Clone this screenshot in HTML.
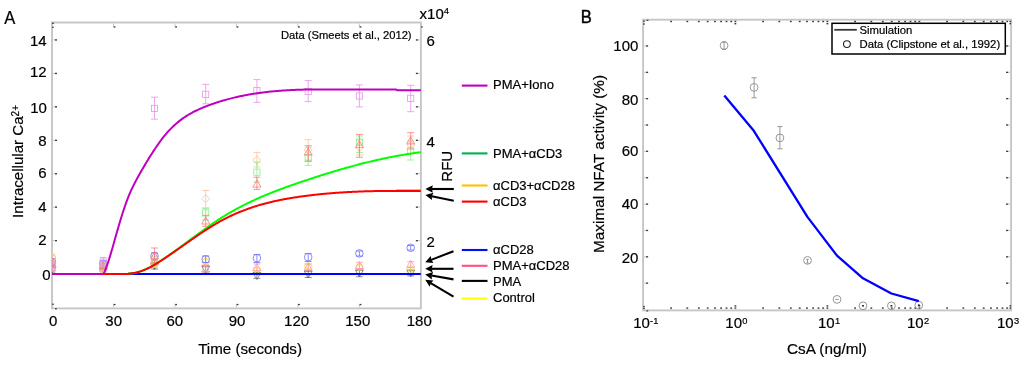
<!DOCTYPE html>
<html><head><meta charset="utf-8"><style>
html,body{margin:0;padding:0;background:#fff;width:1024px;height:366px;overflow:hidden}
svg{display:block;will-change:transform;filter:blur(0.35px)}
text{fill:#000;stroke:#000;stroke-width:0.2px}
</style></head><body>
<svg width="1024" height="366" viewBox="0 0 1024 366" font-family="Liberation Sans, sans-serif">
<rect width="1024" height="366" fill="#fff"/>
<defs><clipPath id="ca"><rect x="52.0" y="22.5" width="368.9" height="285.9"/></clipPath><clipPath id="cb"><rect x="643.1" y="19.7" width="368" height="290.7"/></clipPath></defs>
<rect x="52.0" y="22.5" width="368.9" height="285.9" fill="none" stroke="#c6c6c6" stroke-width="1.9"/>
<line x1="53.0" y1="274.0" x2="57.0" y2="274.0" stroke="#c8c8c8" stroke-width="1"/><rect x="55.0" y="273.4" width="2" height="1.3" fill="#3a3a3a"/>
<line x1="419.9" y1="274.0" x2="415.9" y2="274.0" stroke="#c8c8c8" stroke-width="1"/><rect x="415.9" y="273.4" width="2" height="1.3" fill="#3a3a3a"/>
<line x1="53.0" y1="240.6" x2="57.0" y2="240.6" stroke="#c8c8c8" stroke-width="1"/><rect x="55.0" y="240.0" width="2" height="1.3" fill="#3a3a3a"/>
<line x1="419.9" y1="240.6" x2="415.9" y2="240.6" stroke="#c8c8c8" stroke-width="1"/><rect x="415.9" y="240.0" width="2" height="1.3" fill="#3a3a3a"/>
<line x1="53.0" y1="207.1" x2="57.0" y2="207.1" stroke="#c8c8c8" stroke-width="1"/><rect x="55.0" y="206.5" width="2" height="1.3" fill="#3a3a3a"/>
<line x1="419.9" y1="207.1" x2="415.9" y2="207.1" stroke="#c8c8c8" stroke-width="1"/><rect x="415.9" y="206.5" width="2" height="1.3" fill="#3a3a3a"/>
<line x1="53.0" y1="173.7" x2="57.0" y2="173.7" stroke="#c8c8c8" stroke-width="1"/><rect x="55.0" y="173.1" width="2" height="1.3" fill="#3a3a3a"/>
<line x1="419.9" y1="173.7" x2="415.9" y2="173.7" stroke="#c8c8c8" stroke-width="1"/><rect x="415.9" y="173.1" width="2" height="1.3" fill="#3a3a3a"/>
<line x1="53.0" y1="140.3" x2="57.0" y2="140.3" stroke="#c8c8c8" stroke-width="1"/><rect x="55.0" y="139.7" width="2" height="1.3" fill="#3a3a3a"/>
<line x1="419.9" y1="140.3" x2="415.9" y2="140.3" stroke="#c8c8c8" stroke-width="1"/><rect x="415.9" y="139.7" width="2" height="1.3" fill="#3a3a3a"/>
<line x1="53.0" y1="106.8" x2="57.0" y2="106.8" stroke="#c8c8c8" stroke-width="1"/><rect x="55.0" y="106.2" width="2" height="1.3" fill="#3a3a3a"/>
<line x1="419.9" y1="106.8" x2="415.9" y2="106.8" stroke="#c8c8c8" stroke-width="1"/><rect x="415.9" y="106.2" width="2" height="1.3" fill="#3a3a3a"/>
<line x1="53.0" y1="73.4" x2="57.0" y2="73.4" stroke="#c8c8c8" stroke-width="1"/><rect x="55.0" y="72.8" width="2" height="1.3" fill="#3a3a3a"/>
<line x1="419.9" y1="73.4" x2="415.9" y2="73.4" stroke="#c8c8c8" stroke-width="1"/><rect x="415.9" y="72.8" width="2" height="1.3" fill="#3a3a3a"/>
<line x1="53.0" y1="39.9" x2="57.0" y2="39.9" stroke="#c8c8c8" stroke-width="1"/><rect x="55.0" y="39.3" width="2" height="1.3" fill="#3a3a3a"/>
<line x1="419.9" y1="39.9" x2="415.9" y2="39.9" stroke="#c8c8c8" stroke-width="1"/><rect x="415.9" y="39.3" width="2" height="1.3" fill="#3a3a3a"/>
<line x1="113.5" y1="307.4" x2="113.5" y2="303.9" stroke="#c8c8c8" stroke-width="1"/><rect x="113.7" y="303.9" width="1.8" height="1.3" fill="#3a3a3a"/>
<line x1="113.5" y1="23.5" x2="113.5" y2="27.3" stroke="#c8c8c8" stroke-width="1"/><rect x="113.7" y="26.3" width="1.8" height="1.3" fill="#3a3a3a"/>
<line x1="175.0" y1="307.4" x2="175.0" y2="303.9" stroke="#c8c8c8" stroke-width="1"/><rect x="175.2" y="303.9" width="1.8" height="1.3" fill="#3a3a3a"/>
<line x1="175.0" y1="23.5" x2="175.0" y2="27.3" stroke="#c8c8c8" stroke-width="1"/><rect x="175.2" y="26.3" width="1.8" height="1.3" fill="#3a3a3a"/>
<line x1="236.4" y1="307.4" x2="236.4" y2="303.9" stroke="#c8c8c8" stroke-width="1"/><rect x="236.6" y="303.9" width="1.8" height="1.3" fill="#3a3a3a"/>
<line x1="236.4" y1="23.5" x2="236.4" y2="27.3" stroke="#c8c8c8" stroke-width="1"/><rect x="236.6" y="26.3" width="1.8" height="1.3" fill="#3a3a3a"/>
<line x1="297.9" y1="307.4" x2="297.9" y2="303.9" stroke="#c8c8c8" stroke-width="1"/><rect x="298.1" y="303.9" width="1.8" height="1.3" fill="#3a3a3a"/>
<line x1="297.9" y1="23.5" x2="297.9" y2="27.3" stroke="#c8c8c8" stroke-width="1"/><rect x="298.1" y="26.3" width="1.8" height="1.3" fill="#3a3a3a"/>
<line x1="359.4" y1="307.4" x2="359.4" y2="303.9" stroke="#c8c8c8" stroke-width="1"/><rect x="359.6" y="303.9" width="1.8" height="1.3" fill="#3a3a3a"/>
<line x1="359.4" y1="23.5" x2="359.4" y2="27.3" stroke="#c8c8c8" stroke-width="1"/><rect x="359.6" y="26.3" width="1.8" height="1.3" fill="#3a3a3a"/>
<rect x="52.2" y="22.6" width="1.6" height="1.4" fill="#3a3a3a"/><rect x="52.2" y="26.6" width="1.6" height="1.3" fill="#3a3a3a"/>
<rect x="52.2" y="303.6" width="1.6" height="1.3" fill="#3a3a3a"/><rect x="55" y="308.2" width="1.8" height="1.2" fill="#3a3a3a"/>
<rect x="421.2" y="26.3" width="1.5" height="1.3" fill="#3a3a3a"/>
<text x="46.6" y="45.95" font-size="15" text-anchor="end">14</text>
<text x="46.6" y="77.40" font-size="15" text-anchor="end">12</text>
<text x="46.9" y="113.10" font-size="15" text-anchor="end">10</text>
<text x="46.6" y="145.95" font-size="15" text-anchor="end">8</text>
<text x="46.6" y="178.20" font-size="15" text-anchor="end">6</text>
<text x="46.6" y="212.40" font-size="15" text-anchor="end">4</text>
<text x="46.6" y="245.45" font-size="15" text-anchor="end">2</text>
<text x="50.5" y="280.35" font-size="15" text-anchor="end">0</text>
<text x="53.20" y="326.3" font-size="15" text-anchor="middle">0</text>
<text x="113.65" y="326.3" font-size="15" text-anchor="middle">30</text>
<text x="174.75" y="326.3" font-size="15" text-anchor="middle">60</text>
<text x="237.10" y="326.3" font-size="15" text-anchor="middle">90</text>
<text x="296.60" y="326.3" font-size="15" text-anchor="middle">120</text>
<text x="357.75" y="326.3" font-size="15" text-anchor="middle">150</text>
<text x="419.25" y="326.3" font-size="15" text-anchor="middle">180</text>
<text x="426.4" y="45.5" font-size="15">6</text>
<text x="426.4" y="147.4" font-size="15">4</text>
<text x="426.4" y="246.6" font-size="15">2</text>
<text x="419.6" y="18.8" font-size="15">x10<tspan font-size="9.5" dy="-5">4</tspan></text>
<text transform="translate(452.3,166.3) rotate(-90)" font-size="15" text-anchor="middle">RFU</text>
<text x="198.2" y="354.2" font-size="15.15">Time (seconds)</text>
<text transform="translate(23.4,217.9) rotate(-90)" font-size="15.1">Intracellular Ca<tspan font-size="10" dy="-4.6">2+</tspan></text>
<text transform="translate(4.2,23.6) scale(0.92,1)" font-size="18">A</text>
<text x="281" y="38.9" font-size="11.2">Data (Smeets et al., 2012)</text>
<g clip-path="url(#ca)">
<path d="M52.0,267.0 V273.0 M48.5,267.0 H55.5 M48.5,273.0 H55.5" stroke="#606060" stroke-width="0.7" fill="none"/>
<path d="M52.0,274.0 L56.0,267.0 L48.0,267.0 Z" fill="none" stroke="#606060" stroke-width="0.7"/>
<path d="M103.2,268.0 V274.0 M99.7,268.0 H106.7 M99.7,274.0 H106.7" stroke="#606060" stroke-width="0.7" fill="none"/>
<path d="M103.2,275.0 L107.2,268.0 L99.2,268.0 Z" fill="none" stroke="#606060" stroke-width="0.7"/>
<path d="M154.5,263.0 V269.0 M151.0,263.0 H158.0 M151.0,269.0 H158.0" stroke="#606060" stroke-width="0.7" fill="none"/>
<path d="M154.5,270.0 L158.5,263.0 L150.5,263.0 Z" fill="none" stroke="#606060" stroke-width="0.7"/>
<path d="M205.7,266.0 V272.0 M202.2,266.0 H209.2 M202.2,272.0 H209.2" stroke="#606060" stroke-width="0.7" fill="none"/>
<path d="M205.7,273.0 L209.7,266.0 L201.7,266.0 Z" fill="none" stroke="#606060" stroke-width="0.7"/>
<path d="M256.9,272.9 V278.4 M253.4,272.9 H260.4 M253.4,278.4 H260.4" stroke="#606060" stroke-width="0.7" fill="none"/>
<path d="M256.9,279.6 L260.9,272.6 L252.9,272.6 Z" fill="none" stroke="#606060" stroke-width="0.7"/>
<path d="M308.2,271.0 V277.5 M304.7,271.0 H311.7 M304.7,277.5 H311.7" stroke="#606060" stroke-width="0.7" fill="none"/>
<path d="M308.2,278.0 L312.2,271.0 L304.2,271.0 Z" fill="none" stroke="#606060" stroke-width="0.7"/>
<path d="M359.4,270.0 V276.7 M355.9,270.0 H362.9 M355.9,276.7 H362.9" stroke="#606060" stroke-width="0.7" fill="none"/>
<path d="M359.4,277.0 L363.4,270.0 L355.4,270.0 Z" fill="none" stroke="#606060" stroke-width="0.7"/>
<path d="M410.7,270.6 V275.9 M407.2,270.6 H414.2 M407.2,275.9 H414.2" stroke="#606060" stroke-width="0.7" fill="none"/>
<path d="M410.7,276.9 L414.7,269.9 L406.7,269.9 Z" fill="none" stroke="#606060" stroke-width="0.7"/>
<path d="M52.0,254.0 V260.0 M48.5,254.0 H55.5 M48.5,260.0 H55.5" stroke="#f0e040" stroke-width="0.8" fill="none"/>
<path d="M52.0,253.0 L56.0,257.0 L52.0,261.0 L48.0,257.0 Z" fill="none" stroke="#f0e040" stroke-width="0.8"/>
<path d="M103.2,267.0 V273.0 M99.7,267.0 H106.7 M99.7,273.0 H106.7" stroke="#f0e040" stroke-width="0.8" fill="none"/>
<path d="M103.2,266.0 L107.2,270.0 L103.2,274.0 L99.2,270.0 Z" fill="none" stroke="#f0e040" stroke-width="0.8"/>
<path d="M154.5,261.0 V267.0 M151.0,261.0 H158.0 M151.0,267.0 H158.0" stroke="#f0e040" stroke-width="0.8" fill="none"/>
<path d="M154.5,260.0 L158.5,264.0 L154.5,268.0 L150.5,264.0 Z" fill="none" stroke="#f0e040" stroke-width="0.8"/>
<path d="M205.7,259.0 V264.0 M202.2,259.0 H209.2 M202.2,264.0 H209.2" stroke="#f0e040" stroke-width="0.8" fill="none"/>
<path d="M205.7,257.4 L209.7,261.4 L205.7,265.4 L201.7,261.4 Z" fill="none" stroke="#f0e040" stroke-width="0.8"/>
<path d="M256.9,268.0 V271.8 M253.4,268.0 H260.4 M253.4,271.8 H260.4" stroke="#f0e040" stroke-width="0.8" fill="none"/>
<path d="M256.9,266.0 L260.9,270.0 L256.9,274.0 L252.9,270.0 Z" fill="none" stroke="#f0e040" stroke-width="0.8"/>
<path d="M308.2,264.0 V268.0 M304.7,264.0 H311.7 M304.7,268.0 H311.7" stroke="#f0e040" stroke-width="0.8" fill="none"/>
<path d="M308.2,262.0 L312.2,266.0 L308.2,270.0 L304.2,266.0 Z" fill="none" stroke="#f0e040" stroke-width="0.8"/>
<path d="M359.4,265.0 V269.0 M355.9,265.0 H362.9 M355.9,269.0 H362.9" stroke="#f0e040" stroke-width="0.8" fill="none"/>
<path d="M359.4,263.0 L363.4,267.0 L359.4,271.0 L355.4,267.0 Z" fill="none" stroke="#f0e040" stroke-width="0.8"/>
<path d="M410.7,267.5 V270.0 M407.2,267.5 H414.2 M407.2,270.0 H414.2" stroke="#f0e040" stroke-width="0.8" fill="none"/>
<path d="M410.7,264.8 L414.7,268.8 L410.7,272.8 L406.7,268.8 Z" fill="none" stroke="#f0e040" stroke-width="0.8"/>
<path d="M52.0,265.0 V271.0 M48.5,265.0 H55.5 M48.5,271.0 H55.5" stroke="#ff98b0" stroke-width="0.8" fill="none"/>
<path d="M52.0,264.0 L56.0,271.0 L48.0,271.0 Z" fill="none" stroke="#ff98b0" stroke-width="0.8"/>
<path d="M103.2,265.0 V271.0 M99.7,265.0 H106.7 M99.7,271.0 H106.7" stroke="#ff98b0" stroke-width="0.8" fill="none"/>
<path d="M103.2,264.0 L107.2,271.0 L99.2,271.0 Z" fill="none" stroke="#ff98b0" stroke-width="0.8"/>
<path d="M154.5,259.0 V265.0 M151.0,259.0 H158.0 M151.0,265.0 H158.0" stroke="#ff98b0" stroke-width="0.8" fill="none"/>
<path d="M154.5,258.0 L158.5,265.0 L150.5,265.0 Z" fill="none" stroke="#ff98b0" stroke-width="0.8"/>
<path d="M205.7,265.0 V272.0 M202.2,265.0 H209.2 M202.2,272.0 H209.2" stroke="#ff98b0" stroke-width="0.8" fill="none"/>
<path d="M205.7,264.5 L209.7,271.5 L201.7,271.5 Z" fill="none" stroke="#ff98b0" stroke-width="0.8"/>
<path d="M256.9,264.0 V271.0 M253.4,264.0 H260.4 M253.4,271.0 H260.4" stroke="#ff98b0" stroke-width="0.8" fill="none"/>
<path d="M256.9,263.4 L260.9,270.4 L252.9,270.4 Z" fill="none" stroke="#ff98b0" stroke-width="0.8"/>
<path d="M308.2,264.0 V270.0 M304.7,264.0 H311.7 M304.7,270.0 H311.7" stroke="#ff98b0" stroke-width="0.8" fill="none"/>
<path d="M308.2,263.0 L312.2,270.0 L304.2,270.0 Z" fill="none" stroke="#ff98b0" stroke-width="0.8"/>
<path d="M359.4,262.3 V269.0 M355.9,262.3 H362.9 M355.9,269.0 H362.9" stroke="#ff98b0" stroke-width="0.8" fill="none"/>
<path d="M359.4,261.5 L363.4,268.5 L355.4,268.5 Z" fill="none" stroke="#ff98b0" stroke-width="0.8"/>
<path d="M410.7,261.6 V267.6 M407.2,261.6 H414.2 M407.2,267.6 H414.2" stroke="#ff98b0" stroke-width="0.8" fill="none"/>
<path d="M410.7,260.3 L414.7,267.3 L406.7,267.3 Z" fill="none" stroke="#ff98b0" stroke-width="0.8"/>
<path d="M52.0,259.0 V265.0 M48.5,259.0 H55.5 M48.5,265.0 H55.5" stroke="#7070ff" stroke-width="0.8" fill="none"/>
<circle cx="52.0" cy="262.0" r="3.8" fill="none" stroke="#7070ff" stroke-width="0.8"/>
<path d="M103.2,261.0 V267.0 M99.7,261.0 H106.7 M99.7,267.0 H106.7" stroke="#7070ff" stroke-width="0.8" fill="none"/>
<circle cx="103.2" cy="264.0" r="3.8" fill="none" stroke="#7070ff" stroke-width="0.8"/>
<path d="M154.5,253.0 V260.0 M151.0,253.0 H158.0 M151.0,260.0 H158.0" stroke="#7070ff" stroke-width="0.8" fill="none"/>
<circle cx="154.5" cy="256.0" r="3.8" fill="none" stroke="#7070ff" stroke-width="0.8"/>
<path d="M205.7,256.0 V262.5 M202.2,256.0 H209.2 M202.2,262.5 H209.2" stroke="#7070ff" stroke-width="0.8" fill="none"/>
<circle cx="205.7" cy="259.2" r="3.8" fill="none" stroke="#7070ff" stroke-width="0.8"/>
<path d="M256.9,254.6 V262.5 M253.4,254.6 H260.4 M253.4,262.5 H260.4" stroke="#7070ff" stroke-width="0.8" fill="none"/>
<circle cx="256.9" cy="258.1" r="3.8" fill="none" stroke="#7070ff" stroke-width="0.8"/>
<path d="M308.2,253.5 V261.5 M304.7,253.5 H311.7 M304.7,261.5 H311.7" stroke="#7070ff" stroke-width="0.8" fill="none"/>
<circle cx="308.2" cy="257.2" r="3.8" fill="none" stroke="#7070ff" stroke-width="0.8"/>
<path d="M359.4,251.0 V256.0 M355.9,251.0 H362.9 M355.9,256.0 H362.9" stroke="#7070ff" stroke-width="0.8" fill="none"/>
<circle cx="359.4" cy="253.4" r="3.8" fill="none" stroke="#7070ff" stroke-width="0.8"/>
<path d="M410.7,245.5 V250.0 M407.2,245.5 H414.2 M407.2,250.0 H414.2" stroke="#7070ff" stroke-width="0.8" fill="none"/>
<circle cx="410.7" cy="247.8" r="3.8" fill="none" stroke="#7070ff" stroke-width="0.8"/>
<path d="M52.0,255.0 V262.0 M48.5,255.0 H55.5 M48.5,262.0 H55.5" stroke="#ffc098" stroke-width="0.8" fill="none"/>
<path d="M52.0,254.0 L56.0,258.0 L52.0,262.0 L48.0,258.0 Z" fill="none" stroke="#ffc098" stroke-width="0.8"/>
<path d="M103.2,266.0 V273.0 M99.7,266.0 H106.7 M99.7,273.0 H106.7" stroke="#ffc098" stroke-width="0.8" fill="none"/>
<path d="M103.2,266.0 L107.2,270.0 L103.2,274.0 L99.2,270.0 Z" fill="none" stroke="#ffc098" stroke-width="0.8"/>
<path d="M154.5,258.0 V266.0 M151.0,258.0 H158.0 M151.0,266.0 H158.0" stroke="#ffc098" stroke-width="0.8" fill="none"/>
<path d="M154.5,258.0 L158.5,262.0 L154.5,266.0 L150.5,262.0 Z" fill="none" stroke="#ffc098" stroke-width="0.8"/>
<path d="M205.7,190.5 V207.7 M202.2,190.5 H209.2 M202.2,207.7 H209.2" stroke="#ffc098" stroke-width="0.8" fill="none"/>
<path d="M205.7,194.7 L209.7,198.7 L205.7,202.7 L201.7,198.7 Z" fill="none" stroke="#ffc098" stroke-width="0.8"/>
<path d="M256.9,152.4 V167.0 M253.4,152.4 H260.4 M253.4,167.0 H260.4" stroke="#ffc098" stroke-width="0.8" fill="none"/>
<path d="M256.9,156.1 L260.9,160.1 L256.9,164.1 L252.9,160.1 Z" fill="none" stroke="#ffc098" stroke-width="0.8"/>
<path d="M308.2,139.6 V160.0 M304.7,139.6 H311.7 M304.7,160.0 H311.7" stroke="#ffc098" stroke-width="0.8" fill="none"/>
<path d="M308.2,146.0 L312.2,150.0 L308.2,154.0 L304.2,150.0 Z" fill="none" stroke="#ffc098" stroke-width="0.8"/>
<path d="M359.4,140.0 V155.0 M355.9,140.0 H362.9 M355.9,155.0 H362.9" stroke="#ffc098" stroke-width="0.8" fill="none"/>
<path d="M359.4,143.7 L363.4,147.7 L359.4,151.7 L355.4,147.7 Z" fill="none" stroke="#ffc098" stroke-width="0.8"/>
<path d="M410.7,136.0 V154.0 M407.2,136.0 H414.2 M407.2,154.0 H414.2" stroke="#ffc098" stroke-width="0.8" fill="none"/>
<path d="M410.7,141.0 L414.7,145.0 L410.7,149.0 L406.7,145.0 Z" fill="none" stroke="#ffc098" stroke-width="0.8"/>
<path d="M52.0,263.0 V269.0 M48.5,263.0 H55.5 M48.5,269.0 H55.5" stroke="#8cee8c" stroke-width="0.8" fill="none"/>
<rect x="48.9" y="262.9" width="6.2" height="6.2" fill="none" stroke="#8cee8c" stroke-width="0.8"/>
<path d="M103.2,263.0 V269.0 M99.7,263.0 H106.7 M99.7,269.0 H106.7" stroke="#8cee8c" stroke-width="0.8" fill="none"/>
<rect x="100.1" y="262.9" width="6.2" height="6.2" fill="none" stroke="#8cee8c" stroke-width="0.8"/>
<path d="M154.5,256.0 V264.0 M151.0,256.0 H158.0 M151.0,264.0 H158.0" stroke="#8cee8c" stroke-width="0.8" fill="none"/>
<rect x="151.4" y="256.9" width="6.2" height="6.2" fill="none" stroke="#8cee8c" stroke-width="0.8"/>
<path d="M205.7,208.6 V219.8 M202.2,208.6 H209.2 M202.2,219.8 H209.2" stroke="#8cee8c" stroke-width="0.8" fill="none"/>
<rect x="202.6" y="209.9" width="6.2" height="6.2" fill="none" stroke="#8cee8c" stroke-width="0.8"/>
<path d="M256.9,162.2 V182.0 M253.4,162.2 H260.4 M253.4,182.0 H260.4" stroke="#8cee8c" stroke-width="0.8" fill="none"/>
<rect x="253.8" y="169.1" width="6.2" height="6.2" fill="none" stroke="#8cee8c" stroke-width="0.8"/>
<path d="M308.2,147.2 V165.4 M304.7,147.2 H311.7 M304.7,165.4 H311.7" stroke="#8cee8c" stroke-width="0.8" fill="none"/>
<rect x="305.1" y="154.6" width="6.2" height="6.2" fill="none" stroke="#8cee8c" stroke-width="0.8"/>
<path d="M359.4,136.0 V152.6 M355.9,136.0 H362.9 M355.9,152.6 H362.9" stroke="#8cee8c" stroke-width="0.8" fill="none"/>
<rect x="356.3" y="139.0" width="6.2" height="6.2" fill="none" stroke="#8cee8c" stroke-width="0.8"/>
<path d="M410.7,141.0 V160.0 M407.2,141.0 H414.2 M407.2,160.0 H414.2" stroke="#8cee8c" stroke-width="0.8" fill="none"/>
<rect x="407.6" y="147.7" width="6.2" height="6.2" fill="none" stroke="#8cee8c" stroke-width="0.8"/>
<path d="M52.0,261.0 V267.0 M48.5,261.0 H55.5 M48.5,267.0 H55.5" stroke="#ff7878" stroke-width="0.8" fill="none"/>
<path d="M52.0,260.0 L56.0,267.0 L48.0,267.0 Z" fill="none" stroke="#ff7878" stroke-width="0.8"/>
<path d="M103.2,263.0 V269.0 M99.7,263.0 H106.7 M99.7,269.0 H106.7" stroke="#ff7878" stroke-width="0.8" fill="none"/>
<path d="M103.2,262.0 L107.2,269.0 L99.2,269.0 Z" fill="none" stroke="#ff7878" stroke-width="0.8"/>
<path d="M154.5,248.0 V263.0 M151.0,248.0 H158.0 M151.0,263.0 H158.0" stroke="#ff7878" stroke-width="0.8" fill="none"/>
<path d="M154.5,252.0 L158.5,259.0 L150.5,259.0 Z" fill="none" stroke="#ff7878" stroke-width="0.8"/>
<path d="M205.7,215.3 V226.3 M202.2,215.3 H209.2 M202.2,226.3 H209.2" stroke="#ff7878" stroke-width="0.8" fill="none"/>
<path d="M205.7,217.0 L209.7,224.0 L201.7,224.0 Z" fill="none" stroke="#ff7878" stroke-width="0.8"/>
<path d="M256.9,177.2 V189.4 M253.4,177.2 H260.4 M253.4,189.4 H260.4" stroke="#ff7878" stroke-width="0.8" fill="none"/>
<path d="M256.9,180.1 L260.9,187.1 L252.9,187.1 Z" fill="none" stroke="#ff7878" stroke-width="0.8"/>
<path d="M308.2,145.7 V161.4 M304.7,145.7 H311.7 M304.7,161.4 H311.7" stroke="#ff7878" stroke-width="0.8" fill="none"/>
<path d="M308.2,148.1 L312.2,155.1 L304.2,155.1 Z" fill="none" stroke="#ff7878" stroke-width="0.8"/>
<path d="M359.4,134.4 V157.3 M355.9,134.4 H362.9 M355.9,157.3 H362.9" stroke="#ff7878" stroke-width="0.8" fill="none"/>
<path d="M359.4,140.6 L363.4,147.6 L355.4,147.6 Z" fill="none" stroke="#ff7878" stroke-width="0.8"/>
<path d="M410.7,132.7 V149.0 M407.2,132.7 H414.2 M407.2,149.0 H414.2" stroke="#ff7878" stroke-width="0.8" fill="none"/>
<path d="M410.7,136.9 L414.7,143.9 L406.7,143.9 Z" fill="none" stroke="#ff7878" stroke-width="0.8"/>
<path d="M52.0,262.0 V268.0 M48.5,262.0 H55.5 M48.5,268.0 H55.5" stroke="#e890e8" stroke-width="0.8" fill="none"/>
<rect x="48.9" y="261.9" width="6.2" height="6.2" fill="none" stroke="#e890e8" stroke-width="0.8"/>
<path d="M103.2,257.4 V266.0 M99.7,257.4 H106.7 M99.7,266.0 H106.7" stroke="#e890e8" stroke-width="0.8" fill="none"/>
<rect x="100.1" y="258.9" width="6.2" height="6.2" fill="none" stroke="#e890e8" stroke-width="0.8"/>
<path d="M154.5,97.2 V119.2 M151.0,97.2 H158.0 M151.0,119.2 H158.0" stroke="#e890e8" stroke-width="0.8" fill="none"/>
<rect x="151.4" y="105.3" width="6.2" height="6.2" fill="none" stroke="#e890e8" stroke-width="0.8"/>
<path d="M205.7,84.4 V103.8 M202.2,84.4 H209.2 M202.2,103.8 H209.2" stroke="#e890e8" stroke-width="0.8" fill="none"/>
<rect x="202.6" y="91.2" width="6.2" height="6.2" fill="none" stroke="#e890e8" stroke-width="0.8"/>
<path d="M256.9,79.6 V102.3 M253.4,79.6 H260.4 M253.4,102.3 H260.4" stroke="#e890e8" stroke-width="0.8" fill="none"/>
<rect x="253.8" y="87.5" width="6.2" height="6.2" fill="none" stroke="#e890e8" stroke-width="0.8"/>
<path d="M308.2,80.6 V101.6 M304.7,80.6 H311.7 M304.7,101.6 H311.7" stroke="#e890e8" stroke-width="0.8" fill="none"/>
<rect x="305.1" y="88.3" width="6.2" height="6.2" fill="none" stroke="#e890e8" stroke-width="0.8"/>
<path d="M359.4,84.9 V106.9 M355.9,84.9 H362.9 M355.9,106.9 H362.9" stroke="#e890e8" stroke-width="0.8" fill="none"/>
<rect x="356.3" y="92.9" width="6.2" height="6.2" fill="none" stroke="#e890e8" stroke-width="0.8"/>
<path d="M410.7,85.3 V111.7 M407.2,85.3 H414.2 M407.2,111.7 H414.2" stroke="#e890e8" stroke-width="0.8" fill="none"/>
<rect x="407.6" y="95.2" width="6.2" height="6.2" fill="none" stroke="#e890e8" stroke-width="0.8"/>
</g>
<g clip-path="url(#ca)" fill="none" stroke-linejoin="round" stroke-linecap="butt">
<line x1="52.0" y1="274.0" x2="420.9" y2="274.0" stroke="#0000ff" stroke-width="2.0"/>
<path d="M52.0,274.0 L128.5,274.0 L128.50,273.61 L129.48,273.58 L130.46,273.53 L131.43,273.44 L132.41,273.32 L133.39,273.18 L134.37,273.01 L135.35,272.81 L136.32,272.59 L137.30,272.34 L138.28,272.07 L139.26,271.77 L140.24,271.45 L141.21,271.11 L142.19,270.74 L143.17,270.36 L144.15,269.96 L145.12,269.53 L146.10,269.09 L147.08,268.63 L148.06,268.15 L149.04,267.66 L150.01,267.15 L150.99,266.63 L151.97,266.09 L152.95,265.54 L153.93,264.97 L154.90,264.40 L155.88,263.81 L156.86,263.21 L157.84,262.61 L158.82,261.99 L159.79,261.36 L160.77,260.73 L161.75,260.09 L162.73,259.45 L163.71,258.80 L164.68,258.14 L165.66,257.48 L166.64,256.81 L167.62,256.14 L168.59,255.47 L169.57,254.79 L170.55,254.10 L171.53,253.42 L172.51,252.72 L173.48,252.03 L174.46,251.33 L175.44,250.63 L176.42,249.92 L177.40,249.22 L178.37,248.51 L179.35,247.79 L180.33,247.08 L181.31,246.36 L182.29,245.64 L183.26,244.92 L184.24,244.20 L185.22,243.48 L186.20,242.76 L187.18,242.03 L188.15,241.31 L189.13,240.59 L190.11,239.86 L191.09,239.14 L192.07,238.41 L193.04,237.69 L194.02,236.96 L195.00,236.24 L195.98,235.52 L196.95,234.80 L197.93,234.08 L198.91,233.37 L199.89,232.65 L200.87,231.94 L201.84,231.23 L202.82,230.52 L203.80,229.81 L204.78,229.11 L205.76,228.41 L206.73,227.72 L207.71,227.02 L208.69,226.34 L209.67,225.65 L210.65,224.97 L211.62,224.29 L212.60,223.62 L213.58,222.95 L214.56,222.29 L215.54,221.63 L216.51,220.98 L217.49,220.34 L218.47,219.70 L219.45,219.06 L220.43,218.43 L221.40,217.81 L222.38,217.19 L223.36,216.58 L224.34,215.98 L225.31,215.38 L226.29,214.79 L227.27,214.20 L228.25,213.62 L229.23,213.05 L230.20,212.48 L231.18,211.92 L232.16,211.36 L233.14,210.81 L234.12,210.26 L235.09,209.72 L236.07,209.18 L237.05,208.65 L238.03,208.12 L239.01,207.60 L239.98,207.08 L240.96,206.57 L241.94,206.07 L242.92,205.56 L243.90,205.07 L244.87,204.58 L245.85,204.09 L246.83,203.60 L247.81,203.13 L248.78,202.65 L249.76,202.18 L250.74,201.72 L251.72,201.25 L252.70,200.80 L253.67,200.34 L254.65,199.89 L255.63,199.45 L256.61,199.01 L257.59,198.57 L258.56,198.14 L259.54,197.71 L260.52,197.28 L261.50,196.86 L262.48,196.44 L263.45,196.02 L264.43,195.61 L265.41,195.20 L266.39,194.79 L267.37,194.39 L268.34,193.99 L269.32,193.60 L270.30,193.20 L271.28,192.81 L272.26,192.42 L273.23,192.04 L274.21,191.66 L275.19,191.28 L276.17,190.90 L277.14,190.53 L278.12,190.15 L279.10,189.78 L280.08,189.42 L281.06,189.05 L282.03,188.69 L283.01,188.33 L283.99,187.97 L284.97,187.61 L285.95,187.26 L286.92,186.91 L287.90,186.55 L288.88,186.21 L289.86,185.86 L290.84,185.51 L291.81,185.17 L292.79,184.83 L293.77,184.48 L294.75,184.14 L295.73,183.81 L296.70,183.47 L297.68,183.13 L298.66,182.80 L299.64,182.46 L300.62,182.13 L301.59,181.80 L302.57,181.47 L303.55,181.14 L304.53,180.81 L305.50,180.48 L306.48,180.15 L307.46,179.83 L308.44,179.50 L309.42,179.18 L310.39,178.85 L311.37,178.53 L312.35,178.21 L313.33,177.89 L314.31,177.57 L315.28,177.26 L316.26,176.94 L317.24,176.63 L318.22,176.31 L319.20,176.00 L320.17,175.69 L321.15,175.38 L322.13,175.07 L323.11,174.76 L324.09,174.45 L325.06,174.15 L326.04,173.84 L327.02,173.54 L328.00,173.24 L328.97,172.94 L329.95,172.64 L330.93,172.34 L331.91,172.05 L332.89,171.75 L333.86,171.46 L334.84,171.17 L335.82,170.88 L336.80,170.59 L337.78,170.30 L338.75,170.01 L339.73,169.73 L340.71,169.44 L341.69,169.16 L342.67,168.88 L343.64,168.60 L344.62,168.32 L345.60,168.04 L346.58,167.77 L347.56,167.50 L348.53,167.22 L349.51,166.95 L350.49,166.68 L351.47,166.42 L352.45,166.15 L353.42,165.89 L354.40,165.62 L355.38,165.36 L356.36,165.10 L357.33,164.85 L358.31,164.59 L359.29,164.34 L360.27,164.08 L361.25,163.83 L362.22,163.58 L363.20,163.34 L364.18,163.09 L365.16,162.84 L366.14,162.60 L367.11,162.36 L368.09,162.12 L369.07,161.89 L370.05,161.65 L371.03,161.42 L372.00,161.18 L372.98,160.95 L373.96,160.73 L374.94,160.50 L375.92,160.27 L376.89,160.05 L377.87,159.83 L378.85,159.61 L379.83,159.40 L380.81,159.18 L381.78,158.97 L382.76,158.76 L383.74,158.55 L384.72,158.34 L385.69,158.13 L386.67,157.93 L387.65,157.73 L388.63,157.53 L389.61,157.33 L390.58,157.14 L391.56,156.94 L392.54,156.75 L393.52,156.56 L394.50,156.37 L395.47,156.19 L396.45,156.01 L397.43,155.83 L398.41,155.65 L399.39,155.47 L400.36,155.30 L401.34,155.12 L402.32,154.95 L403.30,154.79 L404.28,154.62 L405.25,154.46 L406.23,154.29 L407.21,154.13 L408.19,153.98 L409.16,153.82 L410.14,153.67 L411.12,153.52 L412.10,153.37 L413.08,153.23 L414.05,153.08 L415.03,152.94 L416.01,152.80 L416.99,152.67 L417.97,152.53 L418.94,152.40 L419.92,152.27 L420.90,152.15" stroke="#00ff00" stroke-width="2.0"/>
<line x1="396" y1="190.2" x2="420.9" y2="190.2" stroke="#ffa500" stroke-width="2"/>
<path d="M52.0,274.0 L128.5,274.0 L128.50,273.67 L129.48,273.57 L130.46,273.47 L131.43,273.34 L132.41,273.20 L133.39,273.04 L134.37,272.86 L135.35,272.67 L136.32,272.45 L137.30,272.22 L138.28,271.96 L139.26,271.69 L140.24,271.40 L141.21,271.08 L142.19,270.75 L143.17,270.39 L144.15,270.01 L145.12,269.61 L146.10,269.19 L147.08,268.74 L148.06,268.28 L149.04,267.80 L150.01,267.30 L150.99,266.78 L151.97,266.25 L152.95,265.70 L153.93,265.14 L154.90,264.56 L155.88,263.98 L156.86,263.38 L157.84,262.77 L158.82,262.15 L159.79,261.53 L160.77,260.90 L161.75,260.26 L162.73,259.62 L163.71,258.97 L164.68,258.32 L165.66,257.67 L166.64,257.01 L167.62,256.35 L168.59,255.69 L169.57,255.02 L170.55,254.35 L171.53,253.67 L172.51,253.00 L173.48,252.32 L174.46,251.64 L175.44,250.96 L176.42,250.28 L177.40,249.59 L178.37,248.91 L179.35,248.22 L180.33,247.53 L181.31,246.85 L182.29,246.16 L183.26,245.47 L184.24,244.78 L185.22,244.09 L186.20,243.40 L187.18,242.72 L188.15,242.03 L189.13,241.35 L190.11,240.66 L191.09,239.98 L192.07,239.30 L193.04,238.62 L194.02,237.94 L195.00,237.27 L195.98,236.60 L196.95,235.93 L197.93,235.26 L198.91,234.60 L199.89,233.94 L200.87,233.28 L201.84,232.63 L202.82,231.98 L203.80,231.34 L204.78,230.70 L205.76,230.06 L206.73,229.43 L207.71,228.80 L208.69,228.18 L209.67,227.57 L210.65,226.96 L211.62,226.35 L212.60,225.75 L213.58,225.16 L214.56,224.58 L215.54,224.00 L216.51,223.42 L217.49,222.86 L218.47,222.30 L219.45,221.75 L220.43,221.21 L221.40,220.67 L222.38,220.14 L223.36,219.62 L224.34,219.11 L225.31,218.61 L226.29,218.11 L227.27,217.62 L228.25,217.13 L229.23,216.66 L230.20,216.19 L231.18,215.73 L232.16,215.27 L233.14,214.82 L234.12,214.38 L235.09,213.95 L236.07,213.52 L237.05,213.10 L238.03,212.68 L239.01,212.27 L239.98,211.87 L240.96,211.48 L241.94,211.09 L242.92,210.70 L243.90,210.33 L244.87,209.96 L245.85,209.59 L246.83,209.23 L247.81,208.88 L248.78,208.53 L249.76,208.19 L250.74,207.85 L251.72,207.52 L252.70,207.20 L253.67,206.88 L254.65,206.56 L255.63,206.25 L256.61,205.95 L257.59,205.65 L258.56,205.36 L259.54,205.07 L260.52,204.78 L261.50,204.51 L262.48,204.23 L263.45,203.96 L264.43,203.70 L265.41,203.44 L266.39,203.18 L267.37,202.93 L268.34,202.69 L269.32,202.44 L270.30,202.21 L271.28,201.97 L272.26,201.74 L273.23,201.52 L274.21,201.30 L275.19,201.08 L276.17,200.86 L277.14,200.65 L278.12,200.45 L279.10,200.25 L280.08,200.05 L281.06,199.85 L282.03,199.66 L283.01,199.47 L283.99,199.29 L284.97,199.10 L285.95,198.93 L286.92,198.75 L287.90,198.58 L288.88,198.41 L289.86,198.24 L290.84,198.08 L291.81,197.91 L292.79,197.76 L293.77,197.60 L294.75,197.45 L295.73,197.30 L296.70,197.15 L297.68,197.00 L298.66,196.86 L299.64,196.72 L300.62,196.58 L301.59,196.44 L302.57,196.30 L303.55,196.17 L304.53,196.04 L305.50,195.91 L306.48,195.78 L307.46,195.66 L308.44,195.54 L309.42,195.41 L310.39,195.30 L311.37,195.18 L312.35,195.06 L313.33,194.95 L314.31,194.84 L315.28,194.73 L316.26,194.62 L317.24,194.52 L318.22,194.41 L319.20,194.31 L320.17,194.21 L321.15,194.11 L322.13,194.02 L323.11,193.92 L324.09,193.83 L325.06,193.74 L326.04,193.65 L327.02,193.56 L328.00,193.47 L328.97,193.39 L329.95,193.31 L330.93,193.23 L331.91,193.15 L332.89,193.07 L333.86,193.00 L334.84,192.92 L335.82,192.85 L336.80,192.78 L337.78,192.71 L338.75,192.64 L339.73,192.57 L340.71,192.51 L341.69,192.45 L342.67,192.38 L343.64,192.32 L344.62,192.26 L345.60,192.21 L346.58,192.15 L347.56,192.10 L348.53,192.04 L349.51,191.99 L350.49,191.94 L351.47,191.89 L352.45,191.84 L353.42,191.80 L354.40,191.75 L355.38,191.71 L356.36,191.67 L357.33,191.63 L358.31,191.59 L359.29,191.55 L360.27,191.51 L361.25,191.48 L362.22,191.44 L363.20,191.41 L364.18,191.37 L365.16,191.34 L366.14,191.31 L367.11,191.28 L368.09,191.26 L369.07,191.23 L370.05,191.20 L371.03,191.18 L372.00,191.16 L372.98,191.13 L373.96,191.11 L374.94,191.09 L375.92,191.07 L376.89,191.06 L377.87,191.04 L378.85,191.02 L379.83,191.01 L380.81,190.99 L381.78,190.98 L382.76,190.97 L383.74,190.95 L384.72,190.94 L385.69,190.93 L386.67,190.92 L387.65,190.92 L388.63,190.91 L389.61,190.90 L390.58,190.90 L391.56,190.89 L392.54,190.89 L393.52,190.88 L394.50,190.88 L395.47,190.88 L396.45,190.88 L397.43,190.88 L398.41,190.88 L399.39,190.88 L400.36,190.88 L401.34,190.88 L402.32,190.88 L403.30,190.88 L404.28,190.88 L405.25,190.88 L406.23,190.88 L407.21,190.88 L408.19,190.88 L409.16,190.88 L410.14,190.88 L411.12,190.88 L412.10,190.88 L413.08,190.88 L414.05,190.88 L415.03,190.88 L416.01,190.88 L416.99,190.88 L417.97,190.88 L418.94,190.88 L419.92,190.88 L420.90,190.88" stroke="#ff0000" stroke-width="2.0"/>
<path d="M52.0,274.0 L102.8,274.0 L102.80,274.00 L103.78,273.45 L104.76,271.31 L105.74,268.92 L106.72,266.31 L107.70,263.50 L108.68,260.53 L109.66,257.40 L110.64,254.16 L111.62,250.82 L112.60,247.41 L113.58,243.95 L114.56,240.48 L115.54,237.01 L116.52,233.56 L117.50,230.14 L118.48,226.76 L119.46,223.43 L120.44,220.15 L121.42,216.95 L122.40,213.81 L123.38,210.76 L124.36,207.81 L125.34,204.95 L126.32,202.20 L127.30,199.57 L128.28,197.07 L129.26,194.68 L130.24,192.39 L131.22,190.21 L132.20,188.10 L133.18,186.08 L134.16,184.11 L135.14,182.21 L136.12,180.35 L137.10,178.53 L138.08,176.74 L139.06,174.98 L140.04,173.25 L141.02,171.54 L142.00,169.85 L142.98,168.18 L143.96,166.52 L144.94,164.87 L145.92,163.23 L146.90,161.60 L147.88,159.99 L148.86,158.39 L149.84,156.81 L150.82,155.25 L151.80,153.70 L152.78,152.17 L153.76,150.66 L154.74,149.18 L155.72,147.71 L156.70,146.27 L157.68,144.85 L158.66,143.46 L159.64,142.10 L160.62,140.76 L161.60,139.45 L162.58,138.18 L163.56,136.93 L164.54,135.71 L165.52,134.53 L166.50,133.38 L167.48,132.26 L168.46,131.18 L169.44,130.12 L170.42,129.10 L171.40,128.10 L172.38,127.13 L173.36,126.19 L174.34,125.28 L175.32,124.39 L176.29,123.53 L177.27,122.70 L178.25,121.89 L179.23,121.10 L180.21,120.34 L181.19,119.60 L182.17,118.88 L183.15,118.18 L184.13,117.51 L185.11,116.85 L186.09,116.21 L187.07,115.60 L188.05,115.00 L189.03,114.41 L190.01,113.85 L190.99,113.30 L191.97,112.76 L192.95,112.24 L193.93,111.73 L194.91,111.24 L195.89,110.76 L196.87,110.29 L197.85,109.83 L198.83,109.39 L199.81,108.95 L200.79,108.52 L201.77,108.11 L202.75,107.69 L203.73,107.29 L204.71,106.89 L205.69,106.50 L206.67,106.12 L207.65,105.74 L208.63,105.37 L209.61,105.00 L210.59,104.64 L211.57,104.29 L212.55,103.94 L213.53,103.60 L214.51,103.26 L215.49,102.93 L216.47,102.61 L217.45,102.29 L218.43,101.97 L219.41,101.66 L220.39,101.36 L221.37,101.06 L222.35,100.77 L223.33,100.48 L224.31,100.19 L225.29,99.92 L226.27,99.64 L227.25,99.38 L228.23,99.11 L229.21,98.85 L230.19,98.60 L231.17,98.35 L232.15,98.10 L233.13,97.86 L234.11,97.63 L235.09,97.40 L236.07,97.17 L237.05,96.95 L238.03,96.73 L239.01,96.52 L239.99,96.30 L240.97,96.10 L241.95,95.90 L242.93,95.70 L243.91,95.50 L244.89,95.31 L245.87,95.13 L246.85,94.94 L247.83,94.77 L248.81,94.59 L249.79,94.42 L250.77,94.25 L251.75,94.09 L252.73,93.93 L253.71,93.77 L254.69,93.62 L255.67,93.47 L256.65,93.32 L257.63,93.18 L258.61,93.04 L259.59,92.90 L260.57,92.77 L261.55,92.64 L262.53,92.51 L263.51,92.39 L264.49,92.27 L265.47,92.15 L266.45,92.04 L267.43,91.92 L268.41,91.82 L269.39,91.71 L270.37,91.61 L271.35,91.51 L272.33,91.41 L273.31,91.32 L274.29,91.23 L275.27,91.14 L276.25,91.06 L277.23,90.97 L278.21,90.89 L279.19,90.82 L280.17,90.74 L281.15,90.67 L282.13,90.60 L283.11,90.53 L284.09,90.47 L285.07,90.40 L286.05,90.34 L287.03,90.29 L288.01,90.23 L288.99,90.18 L289.97,90.13 L290.95,90.08 L291.93,90.03 L292.91,89.98 L293.89,89.94 L294.87,89.90 L295.85,89.86 L296.83,89.83 L297.81,89.79 L298.79,89.76 L299.77,89.73 L300.75,89.70 L301.73,89.67 L302.71,89.64 L303.69,89.62 L304.67,89.59 L305.65,89.57 L306.63,89.55 L307.61,89.54 L308.59,89.52 L309.57,89.50 L310.55,89.49 L311.53,89.48 L312.51,89.47 L313.49,89.46 L314.47,89.45 L315.45,89.44 L316.43,89.43 L317.41,89.43 L318.39,89.43 L319.37,89.42 L320.35,89.42 L321.33,89.42 L322.31,89.42 L323.28,89.42 L324.26,89.42 L325.24,89.42 L326.22,89.42 L327.20,89.42 L328.18,89.42 L329.16,89.42 L330.14,89.42 L331.12,89.42 L332.10,89.42 L333.08,89.42 L334.06,89.42 L335.04,89.42 L336.02,89.42 L337.00,89.42 L337.98,89.42 L338.96,89.42 L339.94,89.42 L340.92,89.42 L341.90,89.42 L342.88,89.42 L343.86,89.42 L344.84,89.42 L345.82,89.42 L346.80,89.42 L347.78,89.42 L348.76,89.42 L349.74,89.42 L350.72,89.42 L351.70,89.42 L352.68,89.42 L353.66,89.42 L354.64,89.42 L355.62,89.42 L356.60,89.42 L357.58,89.42 L358.56,89.42 L359.54,89.42 L360.52,89.42 L361.50,89.42 L362.48,89.42 L363.46,89.42 L364.44,89.42 L365.42,89.42 L366.40,89.42 L367.38,89.42 L368.36,89.42 L369.34,89.42 L370.32,89.42 L371.30,89.42 L372.28,89.42 L373.26,89.42 L374.24,89.42 L375.22,89.42 L376.20,89.42 L377.18,89.42 L378.16,89.42 L379.14,89.42 L380.12,89.42 L381.10,89.42 L382.08,89.42 L383.06,89.42 L384.04,89.42 L385.02,89.42 L386.00,89.42 L386.98,89.42 L387.96,89.42 L388.94,89.42 L389.92,89.42 L390.90,89.42 L391.88,89.42 L392.86,89.42 L393.84,89.42 L394.82,89.42 L395.80,89.42 L397.4,90.3 L420.9,90.3" stroke="#c000c0" stroke-width="2.0"/>
</g>
<line x1="461.8" y1="85.6" x2="487.5" y2="85.6" stroke="#c000c0" stroke-width="2.1"/>
<text x="493" y="88.7" font-size="13">PMA+Iono</text>
<line x1="461.8" y1="153.4" x2="487.5" y2="153.4" stroke="#00b050" stroke-width="2.1"/>
<text x="493" y="158.2" font-size="13">PMA+αCD3</text>
<line x1="461.8" y1="185.5" x2="487.5" y2="185.5" stroke="#ffc000" stroke-width="2.1"/>
<text x="493" y="190.1" font-size="13">αCD3+αCD28</text>
<line x1="461.8" y1="201.6" x2="487.5" y2="201.6" stroke="#ff0000" stroke-width="2.1"/>
<text x="493" y="206.0" font-size="13">αCD3</text>
<line x1="461.8" y1="250.0" x2="487.5" y2="250.0" stroke="#0010f0" stroke-width="2.1"/>
<text x="493" y="254.4" font-size="13">αCD28</text>
<line x1="461.8" y1="265.8" x2="487.5" y2="265.8" stroke="#ff5080" stroke-width="2.1"/>
<text x="493" y="270.2" font-size="13">PMA+αCD28</text>
<line x1="461.8" y1="280.9" x2="487.5" y2="280.9" stroke="#000000" stroke-width="2.1"/>
<text x="493" y="285.6" font-size="13">PMA</text>
<line x1="461.8" y1="298.6" x2="487.5" y2="298.6" stroke="#ffff00" stroke-width="2.1"/>
<text x="493" y="301.7" font-size="13">Control</text>
<line x1="453.8" y1="189" x2="431.80" y2="189.00" stroke="#000" stroke-width="2.1"/><path d="M425.40,189.00 L432.80,185.30 L432.00,189.00 L432.80,192.70 Z" fill="#000"/>
<line x1="453.8" y1="200.7" x2="431.67" y2="196.18" stroke="#000" stroke-width="2.1"/><path d="M425.40,194.90 L433.39,192.76 L431.87,196.22 L431.91,200.01 Z" fill="#000"/>
<line x1="453.5" y1="251.2" x2="431.17" y2="259.88" stroke="#000" stroke-width="2.1"/><path d="M425.20,262.20 L430.76,256.07 L431.35,259.81 L433.44,262.97 Z" fill="#000"/>
<line x1="453.5" y1="268.8" x2="431.60" y2="268.80" stroke="#000" stroke-width="2.1"/><path d="M425.20,268.80 L432.60,265.10 L431.80,268.80 L432.60,272.50 Z" fill="#000"/>
<line x1="453.5" y1="279.4" x2="431.51" y2="275.59" stroke="#000" stroke-width="2.1"/><path d="M425.20,274.50 L433.12,272.12 L431.70,275.63 L431.86,279.41 Z" fill="#000"/>
<line x1="453.5" y1="296.6" x2="430.70" y2="283.07" stroke="#000" stroke-width="2.1"/><path d="M425.20,279.80 L433.45,280.40 L430.88,283.17 L429.67,286.76 Z" fill="#000"/>
<rect x="643.1" y="19.7" width="368.0" height="290.7" fill="none" stroke="#c6c6c6" stroke-width="1.9"/>
<line x1="644.1" y1="283.1" x2="648.1" y2="283.1" stroke="#c8c8c8" stroke-width="1"/><rect x="646.1" y="282.5" width="2" height="1.3" fill="#3a3a3a"/>
<line x1="1010.1" y1="283.1" x2="1006.1" y2="283.1" stroke="#c8c8c8" stroke-width="1"/><rect x="1006.1" y="282.5" width="2" height="1.3" fill="#3a3a3a"/>
<line x1="644.1" y1="256.8" x2="648.1" y2="256.8" stroke="#c8c8c8" stroke-width="1"/><rect x="646.1" y="256.2" width="2" height="1.3" fill="#3a3a3a"/>
<line x1="1010.1" y1="256.8" x2="1006.1" y2="256.8" stroke="#c8c8c8" stroke-width="1"/><rect x="1006.1" y="256.2" width="2" height="1.3" fill="#3a3a3a"/>
<line x1="644.1" y1="230.4" x2="648.1" y2="230.4" stroke="#c8c8c8" stroke-width="1"/><rect x="646.1" y="229.8" width="2" height="1.3" fill="#3a3a3a"/>
<line x1="1010.1" y1="230.4" x2="1006.1" y2="230.4" stroke="#c8c8c8" stroke-width="1"/><rect x="1006.1" y="229.8" width="2" height="1.3" fill="#3a3a3a"/>
<line x1="644.1" y1="204.1" x2="648.1" y2="204.1" stroke="#c8c8c8" stroke-width="1"/><rect x="646.1" y="203.5" width="2" height="1.3" fill="#3a3a3a"/>
<line x1="1010.1" y1="204.1" x2="1006.1" y2="204.1" stroke="#c8c8c8" stroke-width="1"/><rect x="1006.1" y="203.5" width="2" height="1.3" fill="#3a3a3a"/>
<line x1="644.1" y1="177.7" x2="648.1" y2="177.7" stroke="#c8c8c8" stroke-width="1"/><rect x="646.1" y="177.1" width="2" height="1.3" fill="#3a3a3a"/>
<line x1="1010.1" y1="177.7" x2="1006.1" y2="177.7" stroke="#c8c8c8" stroke-width="1"/><rect x="1006.1" y="177.1" width="2" height="1.3" fill="#3a3a3a"/>
<line x1="644.1" y1="151.3" x2="648.1" y2="151.3" stroke="#c8c8c8" stroke-width="1"/><rect x="646.1" y="150.7" width="2" height="1.3" fill="#3a3a3a"/>
<line x1="1010.1" y1="151.3" x2="1006.1" y2="151.3" stroke="#c8c8c8" stroke-width="1"/><rect x="1006.1" y="150.7" width="2" height="1.3" fill="#3a3a3a"/>
<line x1="644.1" y1="125.0" x2="648.1" y2="125.0" stroke="#c8c8c8" stroke-width="1"/><rect x="646.1" y="124.4" width="2" height="1.3" fill="#3a3a3a"/>
<line x1="1010.1" y1="125.0" x2="1006.1" y2="125.0" stroke="#c8c8c8" stroke-width="1"/><rect x="1006.1" y="124.4" width="2" height="1.3" fill="#3a3a3a"/>
<line x1="644.1" y1="98.6" x2="648.1" y2="98.6" stroke="#c8c8c8" stroke-width="1"/><rect x="646.1" y="98.0" width="2" height="1.3" fill="#3a3a3a"/>
<line x1="1010.1" y1="98.6" x2="1006.1" y2="98.6" stroke="#c8c8c8" stroke-width="1"/><rect x="1006.1" y="98.0" width="2" height="1.3" fill="#3a3a3a"/>
<line x1="644.1" y1="72.3" x2="648.1" y2="72.3" stroke="#c8c8c8" stroke-width="1"/><rect x="646.1" y="71.7" width="2" height="1.3" fill="#3a3a3a"/>
<line x1="1010.1" y1="72.3" x2="1006.1" y2="72.3" stroke="#c8c8c8" stroke-width="1"/><rect x="1006.1" y="71.7" width="2" height="1.3" fill="#3a3a3a"/>
<line x1="644.1" y1="45.9" x2="648.1" y2="45.9" stroke="#c8c8c8" stroke-width="1"/><rect x="646.1" y="45.3" width="2" height="1.3" fill="#3a3a3a"/>
<line x1="1010.1" y1="45.9" x2="1006.1" y2="45.9" stroke="#c8c8c8" stroke-width="1"/><rect x="1006.1" y="45.3" width="2" height="1.3" fill="#3a3a3a"/>
<rect x="670.2" y="307.4" width="1.8" height="1.4" fill="#3a3a3a"/>
<rect x="670.2" y="20.8" width="1.8" height="1.4" fill="#3a3a3a"/>
<rect x="686.4" y="307.4" width="1.8" height="1.4" fill="#3a3a3a"/>
<rect x="686.4" y="20.8" width="1.8" height="1.4" fill="#3a3a3a"/>
<rect x="697.9" y="307.4" width="1.8" height="1.4" fill="#3a3a3a"/>
<rect x="697.9" y="20.8" width="1.8" height="1.4" fill="#3a3a3a"/>
<rect x="706.8" y="307.4" width="1.8" height="1.4" fill="#3a3a3a"/>
<rect x="706.8" y="20.8" width="1.8" height="1.4" fill="#3a3a3a"/>
<rect x="714.1" y="307.4" width="1.8" height="1.4" fill="#3a3a3a"/>
<rect x="714.1" y="20.8" width="1.8" height="1.4" fill="#3a3a3a"/>
<rect x="720.2" y="307.4" width="1.8" height="1.4" fill="#3a3a3a"/>
<rect x="720.2" y="20.8" width="1.8" height="1.4" fill="#3a3a3a"/>
<rect x="725.6" y="307.4" width="1.8" height="1.4" fill="#3a3a3a"/>
<rect x="725.6" y="20.8" width="1.8" height="1.4" fill="#3a3a3a"/>
<rect x="730.3" y="307.4" width="1.8" height="1.4" fill="#3a3a3a"/>
<rect x="730.3" y="20.8" width="1.8" height="1.4" fill="#3a3a3a"/>
<rect x="734.5" y="307.4" width="1.8" height="1.4" fill="#3a3a3a"/>
<rect x="734.5" y="20.8" width="1.8" height="1.4" fill="#3a3a3a"/>
<rect x="734.5" y="305.2" width="1.8" height="1.4" fill="#3a3a3a"/>
<rect x="734.5" y="23.0" width="1.8" height="1.4" fill="#3a3a3a"/>
<rect x="762.2" y="307.4" width="1.8" height="1.4" fill="#3a3a3a"/>
<rect x="762.2" y="20.8" width="1.8" height="1.4" fill="#3a3a3a"/>
<rect x="778.4" y="307.4" width="1.8" height="1.4" fill="#3a3a3a"/>
<rect x="778.4" y="20.8" width="1.8" height="1.4" fill="#3a3a3a"/>
<rect x="789.9" y="307.4" width="1.8" height="1.4" fill="#3a3a3a"/>
<rect x="789.9" y="20.8" width="1.8" height="1.4" fill="#3a3a3a"/>
<rect x="798.8" y="307.4" width="1.8" height="1.4" fill="#3a3a3a"/>
<rect x="798.8" y="20.8" width="1.8" height="1.4" fill="#3a3a3a"/>
<rect x="806.1" y="307.4" width="1.8" height="1.4" fill="#3a3a3a"/>
<rect x="806.1" y="20.8" width="1.8" height="1.4" fill="#3a3a3a"/>
<rect x="812.2" y="307.4" width="1.8" height="1.4" fill="#3a3a3a"/>
<rect x="812.2" y="20.8" width="1.8" height="1.4" fill="#3a3a3a"/>
<rect x="817.6" y="307.4" width="1.8" height="1.4" fill="#3a3a3a"/>
<rect x="817.6" y="20.8" width="1.8" height="1.4" fill="#3a3a3a"/>
<rect x="822.3" y="307.4" width="1.8" height="1.4" fill="#3a3a3a"/>
<rect x="822.3" y="20.8" width="1.8" height="1.4" fill="#3a3a3a"/>
<rect x="826.5" y="307.4" width="1.8" height="1.4" fill="#3a3a3a"/>
<rect x="826.5" y="20.8" width="1.8" height="1.4" fill="#3a3a3a"/>
<rect x="826.5" y="305.2" width="1.8" height="1.4" fill="#3a3a3a"/>
<rect x="826.5" y="23.0" width="1.8" height="1.4" fill="#3a3a3a"/>
<rect x="854.2" y="307.4" width="1.8" height="1.4" fill="#3a3a3a"/>
<rect x="854.2" y="20.8" width="1.8" height="1.4" fill="#3a3a3a"/>
<rect x="870.4" y="307.4" width="1.8" height="1.4" fill="#3a3a3a"/>
<rect x="870.4" y="20.8" width="1.8" height="1.4" fill="#3a3a3a"/>
<rect x="881.9" y="307.4" width="1.8" height="1.4" fill="#3a3a3a"/>
<rect x="881.9" y="20.8" width="1.8" height="1.4" fill="#3a3a3a"/>
<rect x="890.8" y="307.4" width="1.8" height="1.4" fill="#3a3a3a"/>
<rect x="890.8" y="20.8" width="1.8" height="1.4" fill="#3a3a3a"/>
<rect x="898.1" y="307.4" width="1.8" height="1.4" fill="#3a3a3a"/>
<rect x="898.1" y="20.8" width="1.8" height="1.4" fill="#3a3a3a"/>
<rect x="904.2" y="307.4" width="1.8" height="1.4" fill="#3a3a3a"/>
<rect x="904.2" y="20.8" width="1.8" height="1.4" fill="#3a3a3a"/>
<rect x="909.6" y="307.4" width="1.8" height="1.4" fill="#3a3a3a"/>
<rect x="909.6" y="20.8" width="1.8" height="1.4" fill="#3a3a3a"/>
<rect x="914.3" y="307.4" width="1.8" height="1.4" fill="#3a3a3a"/>
<rect x="914.3" y="20.8" width="1.8" height="1.4" fill="#3a3a3a"/>
<rect x="918.5" y="307.4" width="1.8" height="1.4" fill="#3a3a3a"/>
<rect x="918.5" y="20.8" width="1.8" height="1.4" fill="#3a3a3a"/>
<rect x="918.5" y="305.2" width="1.8" height="1.4" fill="#3a3a3a"/>
<rect x="918.5" y="23.0" width="1.8" height="1.4" fill="#3a3a3a"/>
<rect x="946.2" y="307.4" width="1.8" height="1.4" fill="#3a3a3a"/>
<rect x="946.2" y="20.8" width="1.8" height="1.4" fill="#3a3a3a"/>
<rect x="962.4" y="307.4" width="1.8" height="1.4" fill="#3a3a3a"/>
<rect x="962.4" y="20.8" width="1.8" height="1.4" fill="#3a3a3a"/>
<rect x="973.9" y="307.4" width="1.8" height="1.4" fill="#3a3a3a"/>
<rect x="973.9" y="20.8" width="1.8" height="1.4" fill="#3a3a3a"/>
<rect x="982.8" y="307.4" width="1.8" height="1.4" fill="#3a3a3a"/>
<rect x="982.8" y="20.8" width="1.8" height="1.4" fill="#3a3a3a"/>
<rect x="990.1" y="307.4" width="1.8" height="1.4" fill="#3a3a3a"/>
<rect x="990.1" y="20.8" width="1.8" height="1.4" fill="#3a3a3a"/>
<rect x="996.2" y="307.4" width="1.8" height="1.4" fill="#3a3a3a"/>
<rect x="996.2" y="20.8" width="1.8" height="1.4" fill="#3a3a3a"/>
<rect x="1001.6" y="307.4" width="1.8" height="1.4" fill="#3a3a3a"/>
<rect x="1001.6" y="20.8" width="1.8" height="1.4" fill="#3a3a3a"/>
<rect x="1006.3" y="307.4" width="1.8" height="1.4" fill="#3a3a3a"/>
<rect x="1006.3" y="20.8" width="1.8" height="1.4" fill="#3a3a3a"/>
<rect x="1009.5" y="307.4" width="1.6" height="1.4" fill="#3a3a3a"/><rect x="1009.5" y="305.2" width="1.6" height="1.4" fill="#3a3a3a"/>
<rect x="1009.5" y="20.8" width="1.6" height="1.4" fill="#3a3a3a"/><rect x="1009.5" y="23.0" width="1.6" height="1.4" fill="#3a3a3a"/>
<rect x="643.2" y="20.5" width="1.6" height="1.4" fill="#3a3a3a"/><rect x="643.2" y="23.3" width="1.6" height="1.4" fill="#3a3a3a"/><rect x="646.6" y="19.8" width="1.8" height="1.2" fill="#3a3a3a"/>
<rect x="643.2" y="305.9" width="1.6" height="1.3" fill="#3a3a3a"/><rect x="643.2" y="307.8" width="1.6" height="1.3" fill="#3a3a3a"/><rect x="646.4" y="310.3" width="1.8" height="1.2" fill="#3a3a3a"/>
<text x="638.4" y="51.00" font-size="15" text-anchor="end">100</text>
<text x="638.4" y="105.00" font-size="15" text-anchor="end">80</text>
<text x="638.4" y="155.95" font-size="15" text-anchor="end">60</text>
<text x="638.4" y="209.40" font-size="15" text-anchor="end">40</text>
<text x="638.4" y="263.30" font-size="15" text-anchor="end">20</text>
<text x="633.2" y="328.4" font-size="15">10<tspan font-size="9.3" dy="-4.2" dx="0.2">-1</tspan></text>
<text x="725.3" y="328.4" font-size="15">10<tspan font-size="9.3" dy="-4.2" dx="0.2">0</tspan></text>
<text x="818.0" y="328.4" font-size="15">10<tspan font-size="9.3" dy="-4.2" dx="0.2">1</tspan></text>
<text x="907.0" y="328.4" font-size="15">10<tspan font-size="9.3" dy="-4.2" dx="0.2">2</tspan></text>
<text x="997.0" y="328.4" font-size="15">10<tspan font-size="9.3" dy="-4.2" dx="0.2">3</tspan></text>
<text x="787" y="353.8" font-size="15.3">CsA (ng/ml)</text>
<text transform="translate(604.3,252.9) rotate(-90)" font-size="15.3">Maximal NFAT activity (%)</text>
<text transform="translate(580.7,23.4) scale(0.92,1)" font-size="18" style="stroke-width:0.45px">B</text>
<g fill="none" stroke="#8c8c8c" stroke-width="0.9">
<circle cx="724.1" cy="45.5" r="3.9"/>
<path d="M724.1,41.9 V49.5 M722.2,41.9 H726.0 M722.2,49.5 H726.0"/>
<circle cx="754.1" cy="87.4" r="3.9"/>
<path d="M754.1,77.8 V97.8 M751.5,77.8 H756.7 M751.5,97.8 H756.7"/>
<circle cx="779.9" cy="137.9" r="3.9"/>
<path d="M779.9,126.6 V148.8 M777.3,126.6 H782.5 M777.3,148.8 H782.5"/>
<circle cx="807.5" cy="260.4" r="3.9"/>
<path d="M807.5,259.3 V263 M806.2,259.3 H808.8 M806.2,263 H808.8"/>
<circle cx="837" cy="299.4" r="3.9"/>
<path d="M835.2,299.4 H838.8"/>
<circle cx="863" cy="305.8" r="3.9"/>
<circle cx="891.4" cy="305.8" r="3.9"/>
<circle cx="918.8" cy="305.2" r="3.9"/>
</g>
<rect x="862.1" y="305.0" width="1.8" height="1.6" fill="#222"/>
<rect x="890.5" y="305.0" width="1.8" height="1.6" fill="#222"/>
<rect x="917.9" y="304.4" width="1.8" height="1.6" fill="#222"/>
<path d="M724.3,95.5 L753.8,130.8 L807.4,216.9 L837,255.6 L863,278.3 L891.4,293.5 L918.8,301.2" fill="none" stroke="#0000ff" stroke-width="2.3" stroke-linejoin="round"/>
<rect x="832" y="23.3" width="173.3" height="30.7" fill="#fff" stroke="#000" stroke-width="1.5"/>
<line x1="834.3" y1="29.8" x2="856.8" y2="29.8" stroke="#3a3a3a" stroke-width="1.8"/>
<text x="859.5" y="34.0" font-size="11.3">Simulation</text>
<circle cx="846.9" cy="44.1" r="3.4" fill="none" stroke="#222" stroke-width="1.1"/>
<text x="859.5" y="47.8" font-size="11.3">Data (Clipstone et al., 1992)</text>
</svg>
</body></html>
